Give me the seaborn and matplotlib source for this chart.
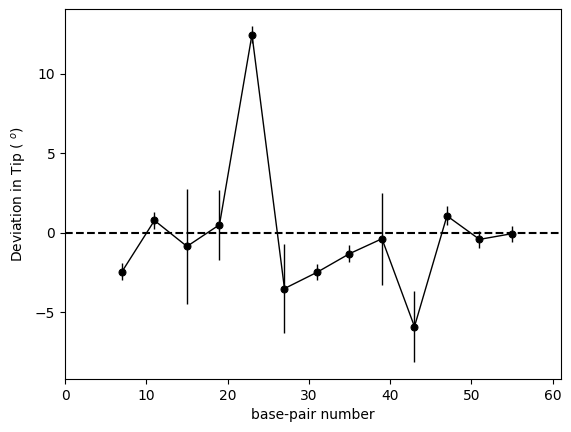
import numpy as np
import pandas as pd
import matplotlib
matplotlib.use("Agg")
import matplotlib.pyplot as plt
import seaborn as sns

# base-pair positions and tip deviation (degrees) with error
bp = [7, 11, 15, 19, 23, 27, 31, 35, 39, 43, 47, 51, 55]
tip = [-2.45, 0.77, -0.86, 0.5, 12.45, -3.51, -2.49, -1.32, -0.38, -5.9, 1.06, -0.42, -0.06]
err = [0.55, 0.55, 3.63, 2.2, 0.55, 2.8, 0.5, 0.55, 2.88, 2.23, 0.6, 0.55, 0.5]

df = pd.DataFrame({"bp": bp, "tip": tip, "err": err})

fig = plt.figure(figsize=(5.71, 4.32), dpi=100)
ax = fig.add_axes([0.114, 0.123, 0.868, 0.856])

# error bars first, then line with markers on top
ax.errorbar(df["bp"], df["tip"], yerr=df["err"], fmt="none",
            ecolor="black", elinewidth=1, capsize=0)
sns.lineplot(data=df, x="bp", y="tip", ax=ax, color="black",
             linewidth=1, marker="o", markersize=5, markeredgecolor="black")

ax.axhline(0, color="black", linestyle="--", linewidth=1.5)

ax.set_xlim(0, 61)
ax.set_xlabel("base-pair number")
ax.set_ylabel("Deviation in Tip ( $^o$)")

fig.savefig("out.png", dpi=100)
